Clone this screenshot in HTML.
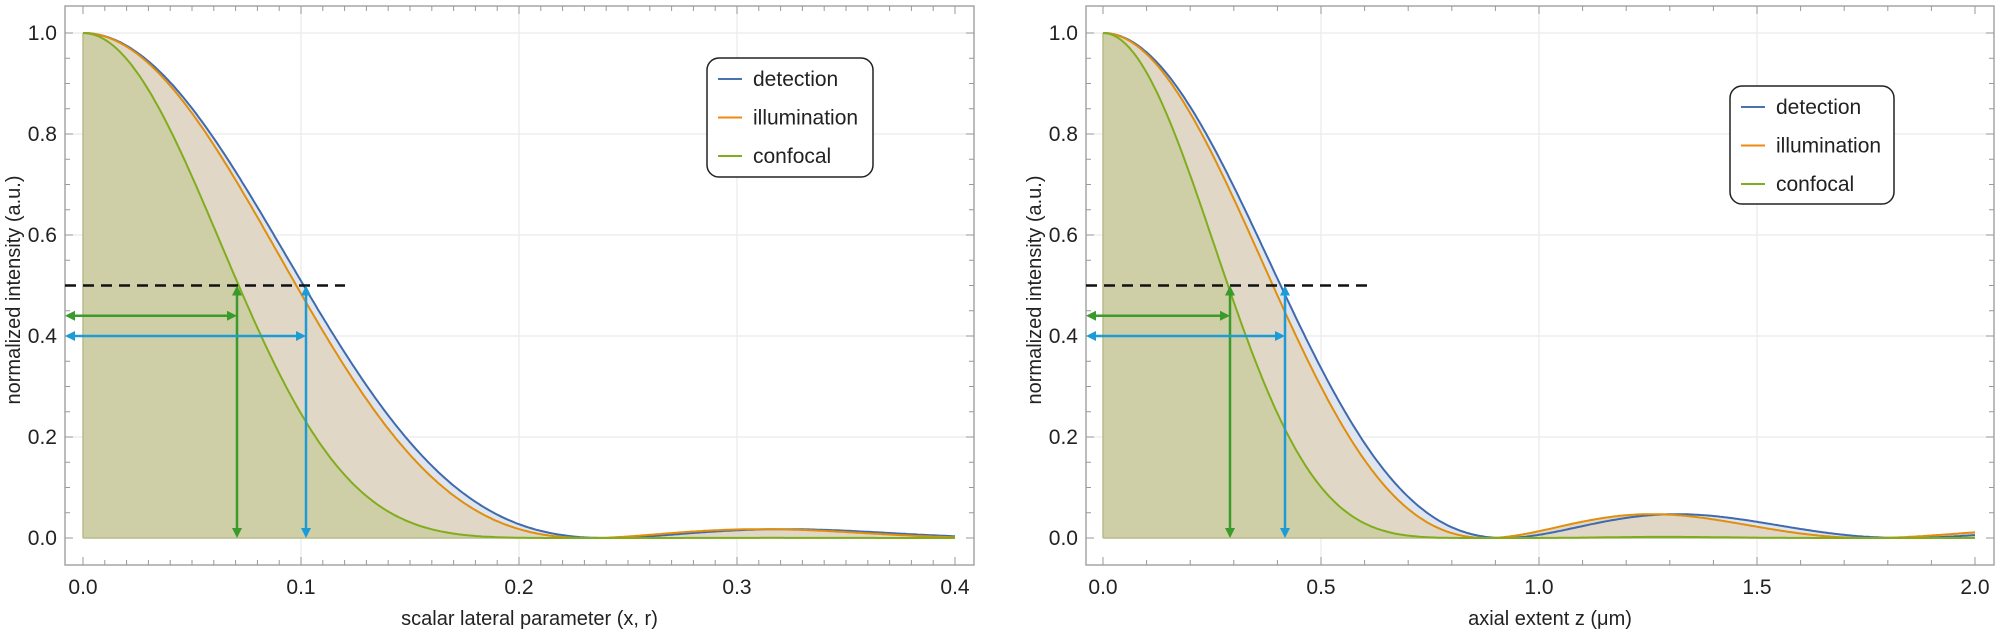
<!DOCTYPE html>
<html><head><meta charset="utf-8"><style>
html,body{margin:0;padding:0;background:#fff;}
svg{display:block;font-family:"Liberation Sans","DejaVu Sans",sans-serif;}
</style></head><body>
<svg id="s" width="1996" height="634" viewBox="0 0 1996 634" xmlns="http://www.w3.org/2000/svg"></svg>
<script>
const S=document.getElementById('s');let h='';
function J1(x){let n=200,s=0;for(let i=0;i<n;i++){let t=(i+0.5)*Math.PI/n;s+=Math.cos(t-x*Math.sin(t));}return s/n;}
function airy(x,z){let v=3.8317*x/z;if(v<1e-9)return 1;let a=2*J1(v)/v;return a*a;}
function sinc2(x,z){let u=Math.PI*x/z;if(u<1e-9)return 1;let a=Math.sin(u)/u;return a*a;}
const Y0=538,YS=505;
function panel(o){
 const {fl,fr,x0,xs,xmax,f1,f2,ticks,minor,label,leg,vg,vb,dash,grid}=o;
 const X=v=>x0+v*xs, Y=v=>Y0-v*YS;
 for(const g of [0.2,0.4,0.6,0.8,1.0]) h+=`<line x1="${fl}" x2="${fr}" y1="${Y(g)}" y2="${Y(g)}" stroke="#ebebeb" stroke-width="1.3"/>`;
 for(const g of grid) h+=`<line x1="${X(g)}" x2="${X(g)}" y1="6" y2="565" stroke="#ebebeb" stroke-width="1.3"/>`;
 const N=400;let pd=[],pi=[],pc=[];
 for(let i=0;i<=N;i++){let x=xmax*i/N;let d=f1(x),il=f2(x);pd.push([X(x),Y(d)]);pi.push([X(x),Y(il)]);pc.push([X(x),Y(d*il)]);}
 const poly=p=>p.map(q=>q[0].toFixed(1)+','+q[1].toFixed(1)).join(' ');
 const fillp=p=>`${X(0)},${Y0} `+poly(p)+` ${X(xmax)},${Y0}`;
 h+=`<polygon points="${fillp(pd)}" fill="#dfe5ee"/>`;
 h+=`<polygon points="${fillp(pi)}" fill="#e0d7c6"/>`;
 h+=`<polygon points="${fillp(pc)}" fill="#cfcfa7"/>`;
 h+=`<line x1="${X(0)}" x2="${X(0)}" y1="${Y(1)}" y2="${Y0}" stroke="#b9bb8a" stroke-width="1.5"/>`;
 h+=`<line x1="${X(0)}" x2="${X(xmax)}" y1="${Y0}" y2="${Y0}" stroke="#b9bb8a" stroke-width="1.5"/>`;
 h+=`<polyline points="${poly(pd)}" fill="none" stroke="#3f6aad" stroke-width="2"/>`;
 h+=`<polyline points="${poly(pi)}" fill="none" stroke="#e08e0b" stroke-width="2"/>`;
 h+=`<polyline points="${poly(pc)}" fill="none" stroke="#80ad1e" stroke-width="2"/>`;
 h+=`<rect x="${fl}" y="6" width="${fr-fl}" height="559" fill="none" stroke="#a6a6a6" stroke-width="1.5"/>`;
 for(let v=0;v<=1.0001;v+=0.05){let big=Math.abs(v*10-Math.round(v*10))<0.01&&Math.round(v*10)%2==0;let l=big?8:5;
  h+=`<line x1="${fl}" x2="${fl+l}" y1="${Y(v)}" y2="${Y(v)}" stroke="#999"/><line x1="${fr}" x2="${fr-l}" y1="${Y(v)}" y2="${Y(v)}" stroke="#999"/>`;}
 for(const t of minor){h+=`<line x1="${X(t)}" x2="${X(t)}" y1="565" y2="560" stroke="#999"/><line x1="${X(t)}" x2="${X(t)}" y1="6" y2="11" stroke="#999"/>`;}
 for(const t of ticks){h+=`<line x1="${X(t[0])}" x2="${X(t[0])}" y1="565" y2="557" stroke="#999"/><line x1="${X(t[0])}" x2="${X(t[0])}" y1="6" y2="14" stroke="#999"/>`;
  h+=`<text x="${X(t[0])}" y="594" font-size="21" text-anchor="middle" fill="#222">${t[1]}</text>`;}
 for(const v of [0,0.2,0.4,0.6,0.8,1.0]) h+=`<text x="${fl-8}" y="${Y(v)+7}" font-size="21" text-anchor="end" fill="#222">${v.toFixed(1)}</text>`;
 h+=`<text transform="translate(${fl-45},290) rotate(-90)" font-size="20" text-anchor="middle" fill="#222">normalized  intensity (a.u.)</text>`;
 h+=`<text x="${(fl+fr)/2+10}" y="625" font-size="20" text-anchor="middle" fill="#222">${label}</text>`;
 h+=`<line x1="${fl}" x2="${dash}" y1="${Y(0.5)}" y2="${Y(0.5)}" stroke="#111" stroke-width="2.5" stroke-dasharray="11,7"/>`;
 const arrV=(x,c)=>{h+=`<line x1="${x}" x2="${x}" y1="${Y(0.5)+8}" y2="${Y0-8}" stroke="${c}" stroke-width="2.5"/><polygon points="${x-5},${Y(0.5)+10} ${x+5},${Y(0.5)+10} ${x},${Y(0.5)}" fill="${c}"/><polygon points="${x-5},${Y0-10} ${x+5},${Y0-10} ${x},${Y0}" fill="${c}"/>`;};
 const arrH=(x,y,c)=>{h+=`<line x1="${fl+8}" x2="${x-8}" y1="${y}" y2="${y}" stroke="${c}" stroke-width="2.5"/><polygon points="${fl+10},${y-5} ${fl+10},${y+5} ${fl},${y}" fill="${c}"/><polygon points="${x-10},${y-5} ${x-10},${y+5} ${x},${y}" fill="${c}"/>`;};
 arrV(vg,'#3a9a2a');arrV(vb,'#1d9bd6');arrH(vg,Y(0.44),'#3a9a2a');arrH(vb,Y(0.4),'#1d9bd6');
 const [lx,ly,lw,lh,e]=leg;
 h+=`<rect x="${lx}" y="${ly}" width="${lw}" height="${lh}" rx="12" fill="#fff" stroke="#222" stroke-width="1.5"/>`;
 [['detection','#4a71b0'],['illumination','#ef8a12'],['confocal','#80ad1e']].forEach((q,i)=>{let y=e+i*38.5;
  h+=`<line x1="${lx+11}" x2="${lx+35}" y1="${y}" y2="${y}" stroke="${q[1]}" stroke-width="2"/><text x="${lx+46}" y="${y+7}" font-size="21" fill="#222">${q[0]}</text>`;});
}
panel({fl:65,fr:974,x0:83,xs:2180,xmax:0.4,f1:x=>airy(x,0.240),f2:x=>airy(x,0.232),
 ticks:[[0,'0.0'],[0.1,'0.1'],[0.2,'0.2'],[0.3,'0.3'],[0.4,'0.4']],minor:[...Array(41).keys()].map(i=>i*0.01).filter(v=>v<0.405),
 label:'scalar lateral parameter (x, r)',leg:[707,58,166,119,79],vg:237,vb:306,dash:345,grid:[0.1,0.2,0.3]});
panel({fl:1086,fr:1994,x0:1103,xs:436,xmax:2.0,f1:x=>sinc2(x,0.92),f2:x=>sinc2(x,0.88),
 ticks:[[0,'0.0'],[0.5,'0.5'],[1,'1.0'],[1.5,'1.5'],[2,'2.0']],minor:[...Array(21).keys()].map(i=>i*0.1),
 label:'axial extent z (μm)',leg:[1730,86,164,118,107],vg:1230,vb:1285,dash:1367,grid:[0.5,1.0,1.5]});
S.innerHTML=h;
</script>
</body></html>
